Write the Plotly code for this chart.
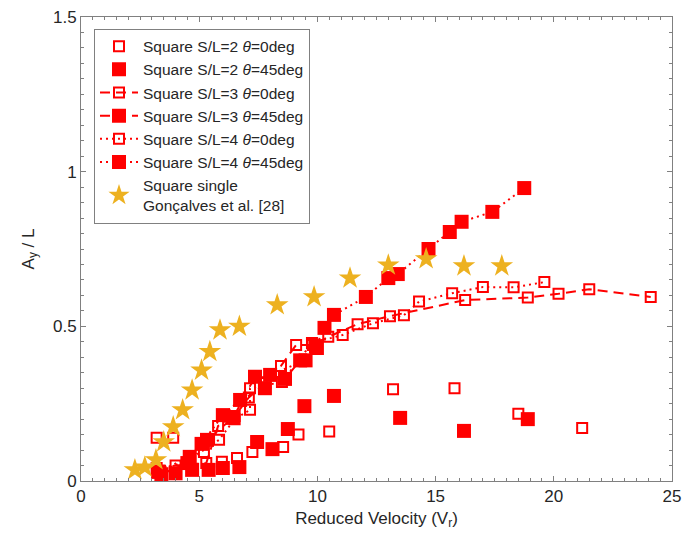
import plotly.graph_objects as go

RED = "#ff0000"
GOLD = "#EDB120"

# S/L=2 theta=0 (open squares, no line)
s2_0_x = [3.2, 3.9, 5.2, 5.96, 6.6, 7.25, 8.55, 9.2, 10.5, 13.2, 15.8, 18.5, 21.2]
s2_0_y = [0.14, 0.14, 0.094, 0.062, 0.074, 0.094, 0.11, 0.15, 0.16, 0.297, 0.30, 0.217, 0.171]

# S/L=2 theta=45 (filled squares, no line)
s2_45_x = [3.3, 4.0, 4.7, 5.4, 6.0, 6.7, 7.45, 8.1, 8.75, 9.45, 10.7, 13.5, 16.2, 18.9]
s2_45_y = [0.03, 0.025, 0.036, 0.036, 0.042, 0.045, 0.126, 0.103, 0.168, 0.242, 0.275, 0.204, 0.162, 0.2]

# S/L=3 theta=0 (open squares, dashed)
s3_0_x = [3.2, 4.0, 5.3, 5.8, 6.5, 7.1, 7.8, 8.46, 9.1, 9.8, 10.46, 11.7, 13.07, 16.25, 18.9, 20.2, 21.5, 24.1]
s3_0_y = [0.042, 0.05, 0.058, 0.178, 0.21, 0.27, 0.317, 0.372, 0.44, 0.44, 0.466, 0.507, 0.533, 0.585, 0.593, 0.605, 0.62, 0.595]

# S/L=3 theta=45 (filled squares, dashed)
s3_45_x = [3.4, 4.5, 5.33, 6.43, 7.36, 8.63, 9.27, 9.98]
s3_45_y = [0.022, 0.058, 0.133, 0.204, 0.337, 0.33, 0.39, 0.43]

# S/L=4 theta=0 (open squares, dotted)
s4_0_x = [3.3, 4.6, 5.84, 6.5, 7.15, 7.15, 8.5, 9.77, 11.07, 12.35, 13.66, 14.3, 15.7, 17.0, 18.3, 19.6]
s4_0_y = [0.03, 0.07, 0.133, 0.2, 0.23, 0.3, 0.32, 0.446, 0.472, 0.51, 0.536, 0.58, 0.607, 0.627, 0.626, 0.643]

# S/L=4 theta=45 (filled squares, dotted)
s4_45_x = [3.26, 4.6, 5.1, 6.0, 6.73, 7.78, 8.0, 9.5, 9.94, 10.3, 10.7, 12.05, 13.0, 13.4, 14.7, 15.6, 16.1, 17.4, 18.75]
s4_45_y = [0.03, 0.078, 0.12, 0.213, 0.262, 0.3, 0.343, 0.39, 0.436, 0.495, 0.537, 0.595, 0.656, 0.669, 0.75, 0.805, 0.838, 0.87, 0.947]

# Square single, Goncalves et al. [28]
gon_x = [2.28, 2.7, 3.17, 3.5, 3.9, 4.3, 4.7, 5.1, 5.45, 5.88, 6.7, 8.3, 9.86, 11.38, 13.0, 14.6, 16.2, 17.8]
gon_y = [0.036, 0.045, 0.068, 0.126, 0.175, 0.23, 0.294, 0.358, 0.418, 0.488, 0.5, 0.569, 0.595, 0.656, 0.698, 0.718, 0.695, 0.695]

names = [
    "Square S/L=2 <i>θ</i>=0deg",
    "Square S/L=2 <i>θ</i>=45deg",
    "Square S/L=3 <i>θ</i>=0deg",
    "Square S/L=3 <i>θ</i>=45deg",
    "Square S/L=4 <i>θ</i>=0deg",
    "Square S/L=4 <i>θ</i>=45deg",
    "Square single<br>Gonçalves et al. [28]",
]

open_m = dict(symbol="square-open", size=10, color=RED, line=dict(width=2, color=RED))
fill_m = dict(symbol="square", size=14, color=RED, line=dict(width=0))
DASH = "10px,6px"
DOT = "2px,4px"

fig = go.Figure()
fig.add_trace(go.Scatter(x=s2_0_x, y=s2_0_y, mode="markers", marker=open_m, name=names[0]))
fig.add_trace(go.Scatter(x=s2_45_x, y=s2_45_y, mode="markers", marker=fill_m, name=names[1]))
fig.add_trace(go.Scatter(x=s3_0_x, y=s3_0_y, mode="lines+markers", marker=open_m,
                         line=dict(color=RED, width=2, dash=DASH), name=names[2]))
fig.add_trace(go.Scatter(x=s3_45_x, y=s3_45_y, mode="lines+markers", marker=fill_m,
                         line=dict(color=RED, width=2, dash=DASH), name=names[3]))
fig.add_trace(go.Scatter(x=s4_0_x, y=s4_0_y, mode="lines+markers", marker=open_m,
                         line=dict(color=RED, width=2, dash=DOT), name=names[4]))
fig.add_trace(go.Scatter(x=s4_45_x, y=s4_45_y, mode="lines+markers", marker=fill_m,
                         line=dict(color=RED, width=2, dash=DOT), name=names[5]))
fig.add_trace(go.Scatter(x=gon_x, y=gon_y, mode="markers",
                         marker=dict(symbol="star", size=17, color=GOLD, line=dict(width=0)),
                         name=names[6]))

axis_common = dict(
    showline=True, linecolor="#808080", linewidth=1, mirror="ticks",
    ticks="inside", ticklen=5, tickcolor="#808080", showgrid=False, zeroline=False,
    automargin=False, ticklabeloverflow="allow",
    tickfont=dict(family="Liberation Sans, Arial", size=17, color="#262626"),
)

fig.update_xaxes(range=[0, 25], dtick=5, tick0=0,
                 minor=dict(dtick=0.5, ticks="inside", ticklen=3, tickcolor="#808080"),
                 title=dict(text="Reduced Velocity (V<sub>r</sub>)", standoff=6,
                            font=dict(family="Liberation Sans, Arial", size=17, color="#262626")),
                 **axis_common)
fig.update_yaxes(range=[0, 1.5], dtick=0.5, tick0=0,
                 minor=dict(dtick=0.05, ticks="inside", ticklen=3, tickcolor="#808080"),
                 title=dict(text="A<sub>y</sub> / L", standoff=14,
                            font=dict(family="Liberation Sans, Arial", size=17, color="#262626")),
                 **axis_common)

# page body has an 8px margin, so the figure is sized to fit inside the window
fig.update_layout(
    width=683, height=523,
    margin=dict(l=73, r=19, t=9, b=50, autoexpand=False),
    paper_bgcolor="white", plot_bgcolor="white",
    font=dict(family="Liberation Sans, Arial", color="#262626"),
    showlegend=True,
    legend=dict(x=0.022, y=0.975, xanchor="left", yanchor="top",
                bordercolor="#808080", borderwidth=1, bgcolor="white",
                font=dict(family="Liberation Sans, Arial", size=15.5, color="#262626"),
                itemwidth=38, tracegroupgap=0),
)

fig.write_html("out.html")
